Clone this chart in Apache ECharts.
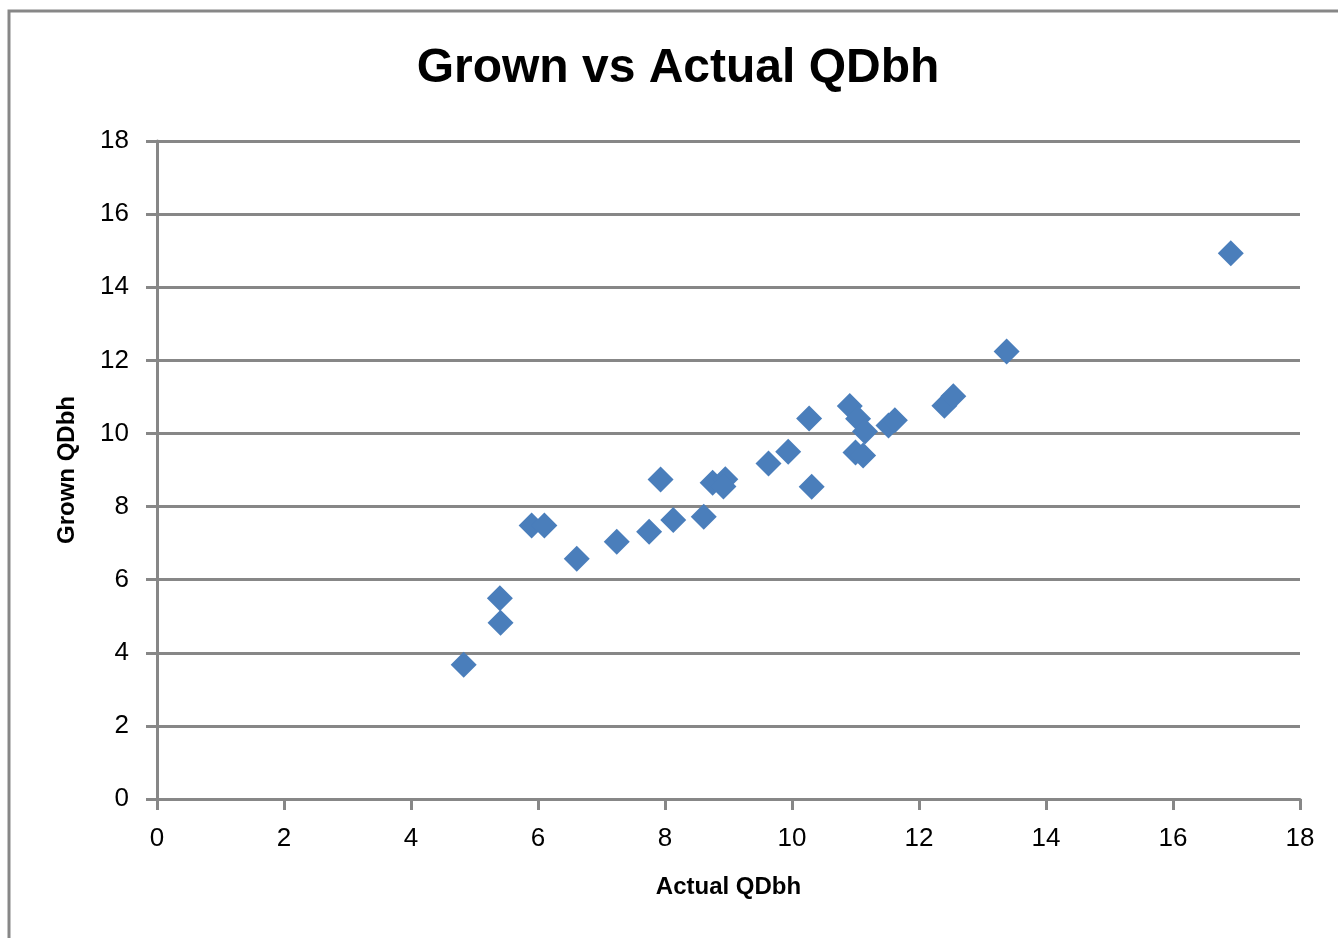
<!DOCTYPE html>
<html>
<head>
<meta charset="utf-8">
<title>Grown vs Actual QDbh</title>
<script src="https://cdn.jsdelivr.net/npm/echarts@6/dist/echarts.min.js"></script>
<style>
  html, body { margin: 0; padding: 0; background: #ffffff; }
  #chart { width: 1338px; height: 938px; }
</style>
</head>
<body>
<div id="chart"></div>
<script>
// Measured quarter-diameter at breast height: actual vs grown
const actualQDbh = [4.83, 5.40, 5.41, 5.90, 6.10, 6.61, 7.24, 7.75, 7.93, 8.13,
                    8.61, 8.75, 8.95, 8.92, 9.63, 9.94, 10.27, 10.31, 10.91, 11.04,
                    11.15, 11.00, 11.12, 11.52, 11.62, 12.40, 12.54, 13.38, 16.91];
const grownQDbh  = [3.67, 5.49, 4.82, 7.48, 7.48, 6.57, 7.04, 7.31, 8.74, 7.63,
                    7.72, 8.65, 8.75, 8.55, 9.18, 9.50, 10.41, 8.54, 10.75, 10.40,
                    10.05, 9.48, 9.40, 10.22, 10.36, 10.76, 11.02, 12.24, 14.93];
const titleText = 'Grown vs Actual QDbh';
const xName = 'Actual QDbh';
const yName = 'Grown QDbh';

const points = actualQDbh.map((x, i) => [x, grownQDbh[i]]);

const axisGray = '#878787';
const fontFamily = "'Liberation Sans', Arial, sans-serif";

const chart = echarts.init(document.getElementById('chart'), null, { renderer: 'canvas' });

chart.setOption({
  backgroundColor: '#ffffff',
  animation: false,
  graphic: [
    {
      type: 'rect',
      z: -10,
      shape: { x: 9, y: 11, width: 1400, height: 1000 },
      style: { fill: 'none', stroke: axisGray, lineWidth: 3 }
    },
    {
      type: 'text',
      x: 678,
      y: 69,
      style: {
        text: titleText,
        fontFamily: fontFamily,
        fontWeight: 'bold',
        fontSize: 48,
        fill: '#000000',
        align: 'center',
        verticalAlign: 'middle'
      }
    }
  ],
  grid: { left: 157, right: 38, top: 141, bottom: 139, containLabel: false },
  xAxis: {
    type: 'value',
    min: 0, max: 18, interval: 2,
    name: xName,
    nameLocation: 'middle',
    nameGap: 76,
    nameTextStyle: { fontFamily: fontFamily, fontWeight: 'bold', fontSize: 24, color: '#000000' },
    axisLine: { show: true, onZero: false, lineStyle: { color: axisGray, width: 3 } },
    axisTick: { show: true, length: 11, lineStyle: { color: axisGray, width: 3 } },
    axisLabel: { margin: 27, fontFamily: fontFamily, fontSize: 26, color: '#000000' },
    splitLine: { show: false }
  },
  yAxis: {
    type: 'value',
    min: 0, max: 18, interval: 2,
    name: yName,
    nameLocation: 'middle',
    nameGap: 78,
    nameRotate: 90,
    nameTextStyle: { fontFamily: fontFamily, fontWeight: 'bold', fontSize: 24, color: '#000000' },
    axisLine: { show: true, onZero: false, lineStyle: { color: axisGray, width: 3 } },
    axisTick: { show: true, length: 11, lineStyle: { color: axisGray, width: 3 } },
    axisLabel: { margin: 28, fontFamily: fontFamily, fontSize: 26, color: '#000000' },
    splitLine: { show: true, lineStyle: { color: axisGray, width: 3 } }
  },
  series: [{
    type: 'scatter',
    data: points,
    symbol: 'diamond',
    symbolSize: 26,
    itemStyle: { color: '#4A7EBB', opacity: 1 }
  }]
});
</script>
</body>
</html>
